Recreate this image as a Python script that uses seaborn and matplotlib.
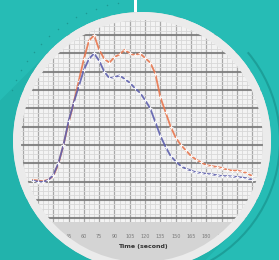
import numpy as np
import pandas as pd
import matplotlib
matplotlib.use("Agg")
import matplotlib.pyplot as plt
from matplotlib.path import Path
from matplotlib.patches import PathPatch, Circle, Arc, Polygon, Rectangle
from matplotlib.ticker import MultipleLocator
import seaborn as sns

# Data: time-activity curves (time in seconds)
time = [10, 15, 20, 25, 30, 35, 40, 45, 50, 55, 60, 65, 70, 75, 80, 85, 90,
        95, 100, 105, 110, 115, 120, 125, 130, 135, 140, 145, 150, 155, 160,
        165, 170, 175, 180, 185, 190, 195, 200, 205, 210, 215, 220, 225]
red_values = [31, 30.5, 30.2, 31, 33, 39.5, 50, 62, 73, 85, 97, 107, 110, 102,
              97, 95, 98, 99.5, 102, 100, 99, 100, 97.5, 95, 89, 76, 68, 60,
              54, 50, 47, 44, 42, 40.5, 39, 38.5, 38, 37.5, 36.5, 36, 36, 35.5,
              34.5, 33]
blue_values = [30.5, 30, 29.8, 30.8, 33.5, 40, 50, 63, 73, 82, 91, 97, 100, 96,
               90, 86.5, 87, 88, 86, 84, 81, 78.5, 74.5, 70, 62.5, 55, 49, 44,
               41, 38.5, 37, 36, 35, 34.7, 34.2, 34, 33.5, 33, 33, 32.8, 32.5,
               32.2, 31.8, 31]
series_names = ["Red", "Blue"]
xlabel_text = "Time (second)"

df = pd.DataFrame({
    "time": time * 2,
    "value": red_values + blue_values,
    "series": [series_names[0]] * len(time) + [series_names[1]] * len(time),
})

TEAL = "#26bcb5"
W, H = 279, 260
cx, cy, r_out, rim = 142, 141, 129, 8

sns.set_style("white")
fig = plt.figure(figsize=(W / 100, H / 100), dpi=100, facecolor="#d4d4d4")

# Chart axes (px: left 20, right 265, top 15, bottom 222)
ax = fig.add_axes([20 / W, (H - 222) / H, 245 / W, 207 / H])
ax.set_facecolor("#f3f3f3")
sns.lineplot(data=df, x="time", y="value", hue="series",
             palette={"Red": "#e8774f", "Blue": "#5e60ae"},
             marker="+", markersize=3.2, markeredgewidth=0.8, linewidth=1.3,
             alpha=0.9, errorbar=None, legend=False, ax=ax)
ax.set_xlim(-2.6, 237.5)
ax.set_ylim(7.9, 121)
ax.xaxis.set_major_locator(MultipleLocator(15))
ax.xaxis.set_minor_locator(MultipleLocator(5))
ax.yaxis.set_major_locator(MultipleLocator(10))
ax.yaxis.set_minor_locator(MultipleLocator(2.5))
ax.grid(which="minor", color="#d8d8d8", linewidth=0.6)
ax.grid(which="major", axis="x", color="#a8a8a8", linewidth=0.9)
ax.grid(which="major", axis="y", color="#7c7c7c", linewidth=1.5, alpha=0.9)
ax.set_axisbelow(True)
for s in ax.spines.values():
    s.set_visible(False)
ax.tick_params(length=0, labelsize=3.5, labelcolor="#7a7a7a", pad=9)
ax.set_yticklabels([])
ax.set_ylabel("")
ax.set_xlabel(xlabel_text, fontsize=4.5, fontweight="bold", color="#333333",
              labelpad=3)

# Overlay: mask outside circle, rim, decorations
ov = fig.add_axes([0, 0, 1, 1], zorder=10)
ov.set_xlim(0, W)
ov.set_ylim(H, 0)
ov.axis("off")
ov.patch.set_alpha(0)

th = np.linspace(0, 2 * np.pi, 300)
ex = cx + r_out * np.cos(th)
ey = cy + r_out * np.sin(th)
rect = [(-5, -5), (W + 5, -5), (W + 5, H + 5), (-5, H + 5), (-5, -5)]
verts = rect + list(zip(ex[::-1], ey[::-1]))
codes = ([Path.MOVETO] + [Path.LINETO] * 3 + [Path.CLOSEPOLY]
         + [Path.MOVETO] + [Path.LINETO] * (len(ex) - 1))
ov.add_patch(PathPatch(Path(verts, codes), facecolor=TEAL, edgecolor="none"))

# long shadow to lower-left
a1, a2 = np.deg2rad(225), np.deg2rad(45)
arc_t = np.linspace(a1, a2, 100)
ul = (cx + r_out * np.cos(a1), cy + r_out * np.sin(a1))
lr = (cx + r_out * np.cos(a2), cy + r_out * np.sin(a2))
shadow = [ul, (0, ul[1] + ul[0]), (0, H), (lr[0] - (H - lr[1]), H), lr]
shadow += list(zip(cx + r_out * np.cos(arc_t[::-1]), cy + r_out * np.sin(arc_t[::-1])))
ov.add_patch(Polygon(shadow, closed=True, facecolor="#22b3ac", edgecolor="none"))

# white rim
ov.add_patch(Circle((cx, cy), r_out - rim / 2, facecolor="none",
                    edgecolor="#ebebeb", linewidth=rim * 0.72))

# dark arc on the right
ov.add_patch(Arc((cx, cy), 2 * 138, 2 * 138, theta1=-40, theta2=88,
                 color="#1c9f99", linewidth=1.5))

# dotted arc upper-left
dot_a = np.deg2rad(np.arange(-100, -162, -4.5))
ov.scatter(cx + 140 * np.cos(dot_a), cy + 140 * np.sin(dot_a), s=1.2,
           color="#1c9a94", linewidths=0)

# stem at top
ov.add_patch(Rectangle((133.5, -1), 3, 13, facecolor="white", edgecolor="none"))

fig.savefig("out.png", dpi=100, facecolor=fig.get_facecolor())
